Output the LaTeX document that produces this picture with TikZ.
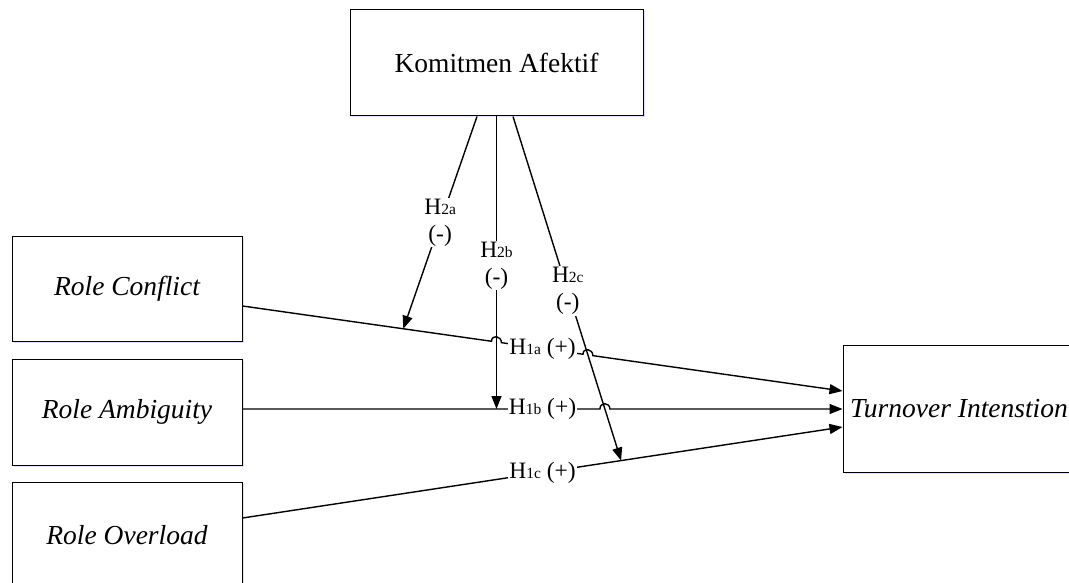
\documentclass[tikz,border=0pt]{standalone}
\usepackage{fontspec}
\setmainfont{Liberation Serif}
\usetikzlibrary{calc,arrows.meta,shadows}
\newcommand{\sbs}[1]{{\fontsize{15.5}{17}\selectfont #1}}
\begin{document}
\begin{tikzpicture}[x=1pt,y=-1pt,
  box/.style={draw, line width=1pt, fill=white, inner sep=0pt,
    font=\fontsize{27.5}{31}\selectfont,
    drop shadow={shadow xshift=1.5pt,shadow yshift=-1.5pt,fill=blue!25!white,opacity=0.5}},
  conn/.style={line width=1.4pt},
  arr/.style={conn,-{Triangle[length=13pt,width=10pt]}},
  lab/.style={fill=white, inner sep=1pt, font=\fontsize{23.5}{27}\selectfont, align=center},
]
\useasboundingbox (0,0) rectangle (1069,583);
\clip (0,0) rectangle (1069,583);

% boxes
\node[box, minimum width=293pt, minimum height=106pt] (ka) at (496.5,63) {Komitmen Afektif};
\node[box, minimum width=230pt, minimum height=105pt] (rc) at (127,288.5) {\itshape Role Conflict};
\node[box, minimum width=230pt, minimum height=106pt] (ra) at (127,412) {\itshape Role Ambiguity};
\node[box, minimum width=230pt, minimum height=106pt] (ro) at (127,535) {\itshape Role Overload};
\node[box, minimum width=232pt, minimum height=127pt] (ti) at (959,408.5) {\itshape Turnover Intenstion};

% anchor coordinates
\coordinate (rcO) at ($(rc.east)+(0,17.5)$);
\coordinate (raO) at ($(ra.east)+(0,-3)$);
\coordinate (roO) at ($(ro.east)+(0,-17)$);
\coordinate (tiA) at ($(ti.west)+(0,-17.5)$);
\coordinate (tiB) at ($(ti.west)+(0,0.5)$);
\coordinate (tiC) at ($(ti.west)+(0,18.5)$);
\coordinate (kaA) at ($(ka.south)+(-19.5,0)$);
\coordinate (kaB) at (ka.south);
\coordinate (kaC) at ($(ka.south)+(16.5,0)$);
\coordinate (m2a) at ($(rcO)!0.268!(tiA)$);
\coordinate (m2b) at (kaB |- raO);
\coordinate (m2c) at ($(roO)!0.631!(tiC)$);

% crossings
\coordinate (X1) at (intersection of rcO--tiA and kaB--m2b);
\coordinate (X2) at (intersection of rcO--tiA and kaC--m2c);
\coordinate (X3) at (intersection of raO--tiB and kaC--m2c);
\coordinate (h1a) at ($(X1)!5pt!(rcO)$);
\coordinate (h1b) at ($(X1)!5pt!(tiA)$);
\coordinate (h2a) at ($(X2)!5pt!(rcO)$);
\coordinate (h2b) at ($(X2)!5pt!(tiA)$);
\coordinate (h3a) at ($(X3)!5pt!(raO)$);
\coordinate (h3b) at ($(X3)!5pt!(tiB)$);

% H1 paths
\draw[arr] (rcO) -- (h1a) .. controls ($(h1a)+(0,-7)$) and ($(h1b)+(0,-7)$) .. (h1b)
  -- (h2a) .. controls ($(h2a)+(0,-7)$) and ($(h2b)+(0,-7)$) .. (h2b) -- (tiA);
\draw[arr] (raO) -- (h3a) .. controls ($(h3a)+(0,-7)$) and ($(h3b)+(0,-7)$) .. (h3b) -- (tiB);
\draw[arr] (roO) -- (tiC);

\node[lab] (l1a) at ($(rcO)!0.5!(tiA)$) {H\sbs{1a} (+)};
\node[lab] (l1b) at ($(raO)!0.5!(tiB)$) {H\sbs{1b} (+)};
\node[lab] (l1c) at ($(roO)!0.5!(tiC)$) {H\sbs{1c} (+)};

% H2 paths
\draw[arr] (kaA) -- node[lab, pos=0.5] (l2a) {H\sbs{2a}\\(-)} (m2a);
\draw[arr] (kaB) -- node[lab, pos=0.51] (l2b) {H\sbs{2b}\\(-)} (m2b);
\draw[arr] (kaC) -- node[lab, pos=0.507] (l2c) {H\sbs{2c}\\(-)} (m2c);
\end{tikzpicture}
\end{document}
